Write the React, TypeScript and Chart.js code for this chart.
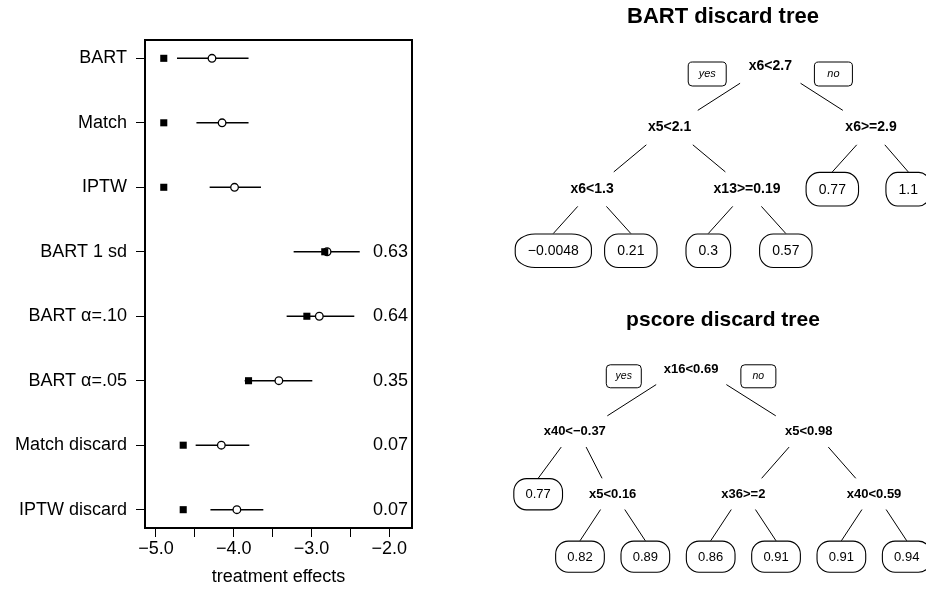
import React, { useEffect, useRef } from 'react';
import { Chart, registerables } from 'chart.js';

Chart.register(...registerables);

const FONT = "'Liberation Sans', Arial, Helvetica, sans-serif";

// ---------- Forest plot data ----------
const methods = ['BART', 'Match', 'IPTW', 'BART 1 sd', 'BART α=.10', 'BART α=.05', 'Match discard', 'IPTW discard'];
const trueEffects = [-4.9, -4.9, -4.9, -2.83, -3.06, -3.81, -4.65, -4.65];
const estimates = [-4.28, -4.15, -3.99, -2.8, -2.9, -3.42, -4.16, -3.96];
const ciLower = [-4.73, -4.48, -4.31, -3.23, -3.32, -3.86, -4.49, -4.3];
const ciUpper = [-3.81, -3.81, -3.65, -2.38, -2.45, -2.99, -3.8, -3.62];
const discardProportions = ['', '', '', '0.63', '0.64', '0.35', '0.07', '0.07'];
const xTickValues = [-5, -4.5, -4, -3.5, -3, -2.5, -2];

// ---------- BART discard tree ----------
const bartTreeLabels = ['x6<2.7', 'x5<2.1', 'x6>=2.9', 'x6<1.3', 'x13>=0.19', '0.77', '1.1', '\u22120.0048', '0.21', '0.3', '0.57'];
const bartTreeParents = [-1, 0, 0, 1, 1, 2, 2, 3, 3, 4, 4];
const bartTreeDepth = [0, 1, 1, 2, 2, 2, 2, 3, 3, 3, 3];
const bartTreePos = [2.8, 1.5, 4.1, 0.5, 2.5, 3.6, 4.58, 0, 1, 2, 3];
const bartTreeLeaf = [false, false, false, false, false, true, true, true, true, true, true];

// ---------- pscore discard tree ----------
const pscoreTreeLabels = ['x16<0.69', 'x40<\u22120.37', 'x5<0.98', '0.77', 'x5<0.16', 'x36>=2', 'x40<0.59', '0.82', '0.89', '0.86', '0.91', '0.91', '0.94'];
const pscoreTreeParents = [-1, 0, 0, 1, 1, 2, 2, 4, 4, 5, 5, 6, 6];
const pscoreTreeDepth = [0, 1, 1, 2, 2, 2, 2, 3, 3, 3, 3, 3, 3];
const pscoreTreePos = [1.7, -0.08, 3.5, -0.64, 0.5, 2.5, 4.5, 0, 1, 2, 3, 4, 5];
const pscoreTreeLeaf = [false, false, false, true, false, false, false, true, true, true, true, true, true];

const fmtTick = (v: number) => (v < 0 ? '\u2212' : '') + Math.abs(v).toFixed(1);

function ForestPlot() {
  const ref = useRef<HTMLCanvasElement | null>(null);
  useEffect(() => {
    if (!ref.current) return;
    const rows = methods.map((_, i) => i + 1);
    const intervalSets = rows.map((r, i) => ({
      data: [{ x: ciLower[i], y: r }, { x: ciUpper[i], y: r }],
      showLine: true,
      borderColor: '#000',
      borderWidth: 1.5,
      pointRadius: 0,
      order: 3,
    }));
    const boxPlugin = {
      id: 'forestBox',
      afterDatasetsDraw(chart: any) {
        const { ctx, chartArea, scales } = chart;
        ctx.save();
        ctx.strokeStyle = '#000';
        ctx.lineWidth = 2;
        ctx.strokeRect(chartArea.left, chartArea.top, chartArea.right - chartArea.left, chartArea.bottom - chartArea.top);
        ctx.fillStyle = '#000';
        ctx.font = `18px ${FONT}`;
        ctx.textAlign = 'right';
        ctx.textBaseline = 'middle';
        discardProportions.forEach((t, i) => {
          if (!t) return;
          ctx.fillText(t, chartArea.right - 4, scales.y.getPixelForValue(i + 1));
        });
        ctx.restore();
      },
    };
    const chart = new Chart(ref.current, {
      type: 'scatter',
      data: {
        datasets: [
          ...intervalSets,
          {
            data: trueEffects.map((v, i) => ({ x: v, y: i + 1 })),
            pointStyle: 'rect',
            pointRadius: 5,
            backgroundColor: '#000',
            borderColor: '#000',
            borderWidth: 0,
            order: 1,
          },
          {
            data: estimates.map((v, i) => ({ x: v, y: i + 1 })),
            pointStyle: 'circle',
            pointRadius: 3.8,
            backgroundColor: '#fff',
            borderColor: '#000',
            borderWidth: 1.3,
            order: 2,
          },
        ] as any,
      },
      options: {
        responsive: false,
        animation: false,
        devicePixelRatio: 1,
        events: [],
        layout: { padding: { left: 0, top: 40, right: 58, bottom: 0 } },
        plugins: { legend: { display: false }, tooltip: { enabled: false } },
        scales: {
          x: {
            type: 'linear',
            min: -5.1414,
            max: -1.708,
            afterBuildTicks: (s: any) => { s.ticks = xTickValues.map((v) => ({ value: v })); },
            afterFit: (s: any) => { s.height = 70; },
            ticks: {
              autoSkip: false,
              maxRotation: 0,
              color: '#000',
              padding: 1,
              font: { family: FONT, size: 18 },
              callback: (v: any) => (Math.abs(v - Math.round(v)) < 1e-6 ? fmtTick(Number(v)) : ''),
            },
            grid: { drawOnChartArea: false, drawTicks: true, tickLength: 9, color: '#000', lineWidth: 1 },
            border: { display: false },
            title: {
              display: true,
              text: 'treatment effects',
              color: '#000',
              font: { family: FONT, size: 18 },
              padding: { top: 0, bottom: 10 },
            },
          },
          y: {
            type: 'linear',
            min: 0.716,
            max: 8.284,
            reverse: true,
            afterBuildTicks: (s: any) => { s.ticks = methods.map((_, i) => ({ value: i + 1 })); },
            afterFit: (s: any) => { s.width = 145; },
            ticks: {
              autoSkip: false,
              color: '#000',
              padding: 9,
              font: { family: FONT, size: 18 },
              callback: (v: any) => methods[Math.round(Number(v)) - 1] ?? '',
            },
            grid: { drawOnChartArea: false, drawTicks: true, tickLength: 9, color: '#000', lineWidth: 1 },
            border: { display: false },
          },
        },
      } as any,
      plugins: [boxPlugin],
    });
    return () => chart.destroy();
  }, []);
  return <canvas ref={ref} width={470} height={598} style={{ position: 'absolute', left: 0, top: 0 }} />;
}

interface TreeProps {
  title: string;
  labels: string[];
  parents: number[];
  depth: number[];
  pos: number[];
  leaf: boolean[];
  xMin: number;
  xMax: number;
  yMin: number;
  yMax: number;
  fontSize: number;
  titleSize: number;
  titleBaseline: number;
  yStart: number;
  yEnd: number;
  yesFont: number;
  yesBox: [number, number];
  yesDy: number;
  top: number;
  height: number;
}

function leafPath(ctx: CanvasRenderingContext2D, x: number, y: number, w: number, h: number) {
  const rx = Math.min(w * 0.26, w / 2);
  const ry = h * 0.42;
  const P = Math.PI;
  ctx.beginPath();
  ctx.moveTo(x + rx, y);
  ctx.lineTo(x + w - rx, y);
  ctx.ellipse(x + w - rx, y + ry, rx, ry, 0, -P / 2, 0);
  ctx.lineTo(x + w, y + h - ry);
  ctx.ellipse(x + w - rx, y + h - ry, rx, ry, 0, 0, P / 2);
  ctx.lineTo(x + rx, y + h);
  ctx.ellipse(x + rx, y + h - ry, rx, ry, 0, P / 2, P);
  ctx.lineTo(x, y + ry);
  ctx.ellipse(x + rx, y + ry, rx, ry, 0, P, 1.5 * P);
  ctx.closePath();
}

function TreeChart(p: TreeProps) {
  const ref = useRef<HTMLCanvasElement | null>(null);
  useEffect(() => {
    if (!ref.current) return;
    const edgeSets: any[] = [];
    p.labels.forEach((_, i) => {
      const par = p.parents[i];
      if (par < 0) return;
      const dx = p.pos[i] - p.pos[par];
      const f0 = p.leaf[i] ? 0.37 : 0.3;
      const f1 = p.leaf[i] ? 1 : 0.72;
      edgeSets.push({
        data: [
          { x: p.pos[par] + f0 * dx, y: p.depth[par] + p.yStart },
          { x: p.pos[par] + f1 * dx, y: p.depth[i] - p.yEnd },
        ],
        showLine: true,
        borderColor: '#000',
        borderWidth: 1,
        pointRadius: 0,
      });
    });
    const nodePlugin = {
      id: 'treeNodes',
      afterDatasetsDraw(chart: any) {
        const { ctx, chartArea, scales } = chart;
        const fs = p.fontSize;
        ctx.save();
        ctx.fillStyle = '#000';
        ctx.strokeStyle = '#000';
        ctx.textAlign = 'center';
        ctx.font = `bold ${p.titleSize}px ${FONT}`;
        ctx.textBaseline = 'alphabetic';
        ctx.fillText(p.title, (chartArea.left + chartArea.right) / 2, p.titleBaseline);
        ctx.textBaseline = 'middle';
        p.labels.forEach((lab, i) => {
          const px = scales.x.getPixelForValue(p.pos[i]);
          const py = scales.y.getPixelForValue(p.depth[i]);
          if (p.leaf[i]) {
            ctx.font = `${fs}px ${FONT}`;
            const w = ctx.measureText(lab).width + 1.8 * fs;
            const h = 2.4 * fs;
            leafPath(ctx, px - w / 2, py - h / 2, w, h);
            ctx.fillStyle = '#fff';
            ctx.fill();
            ctx.lineWidth = 1.1;
            ctx.stroke();
            ctx.fillStyle = '#000';
            ctx.fillText(lab, px, py + 0.5);
          } else {
            ctx.font = `bold ${fs}px ${FONT}`;
            ctx.fillText(lab, px, py);
          }
        });
        // yes / no boxes beside the root
        const root = p.parents.indexOf(-1);
        const rx = scales.x.getPixelForValue(p.pos[root]);
        const ry = scales.y.getPixelForValue(p.depth[root]);
        ctx.font = `bold ${fs}px ${FONT}`;
        const half = ctx.measureText(p.labels[root]).width / 2;
        const [bw, bh] = p.yesBox;
        const gap = 22.5;
        [['yes', -1], ['no', 1]].forEach(([t, side]: any) => {
          const cx = rx + side * (half + gap + bw / 2);
          const cy = ry + p.yesDy;
          ctx.beginPath();
          ctx.roundRect(cx - bw / 2, cy - bh / 2, bw, bh, 4);
          ctx.lineWidth = 1;
          ctx.stroke();
          ctx.font = `italic ${p.yesFont}px ${FONT}`;
          ctx.fillText(t, cx, cy);
        });
        ctx.restore();
      },
    };
    const chart = new Chart(ref.current, {
      type: 'scatter',
      data: { datasets: edgeSets },
      options: {
        responsive: false,
        animation: false,
        devicePixelRatio: 1,
        events: [],
        layout: { padding: { left: 50, top: 0, right: 0, bottom: 0 } },
        plugins: { legend: { display: false }, tooltip: { enabled: false } },
        scales: {
          x: { type: 'linear', display: false, min: p.xMin, max: p.xMax },
          y: { type: 'linear', display: false, min: p.yMin, max: p.yMax, reverse: true },
        },
      } as any,
      plugins: [nodePlugin],
    });
    return () => chart.destroy();
  }, []);
  return <canvas ref={ref} width={456} height={p.height} style={{ position: 'absolute', left: 470, top: p.top }} />;
}

export default function App() {
  return (
    <div style={{ position: 'absolute', left: 0, top: 0, width: 926, height: 598, overflow: 'hidden', background: '#fff' }}>
      <ForestPlot />
      <TreeChart
        title="BART discard tree"
        labels={bartTreeLabels}
        parents={bartTreeParents}
        depth={bartTreeDepth}
        pos={bartTreePos}
        leaf={bartTreeLeaf}
        xMin={-0.43}
        xMax={4.809}
        yMin={-1.072}
        yMax={3.8}
        fontSize={14}
        titleSize={22}
        titleBaseline={22.5}
        yStart={0.28}
        yEnd={0.28}
        yesFont={11}
        yesBox={[38, 24]}
        yesDy={8}
        top={0}
        height={300}
      />
      <TreeChart
        title="pscore discard tree"
        labels={pscoreTreeLabels}
        parents={pscoreTreeParents}
        depth={pscoreTreeDepth}
        pos={pscoreTreePos}
        leaf={pscoreTreeLeaf}
        xMin={-0.918}
        xMax={5.295}
        yMin={-1.109}
        yMax={3.661}
        fontSize={13}
        titleSize={21}
        titleBaseline={26}
        yStart={0.245}
        yEnd={0.255}
        yesFont={10.5}
        yesBox={[35, 23]}
        yesDy={7}
        top={300}
        height={298}
      />
    </div>
  );
}
